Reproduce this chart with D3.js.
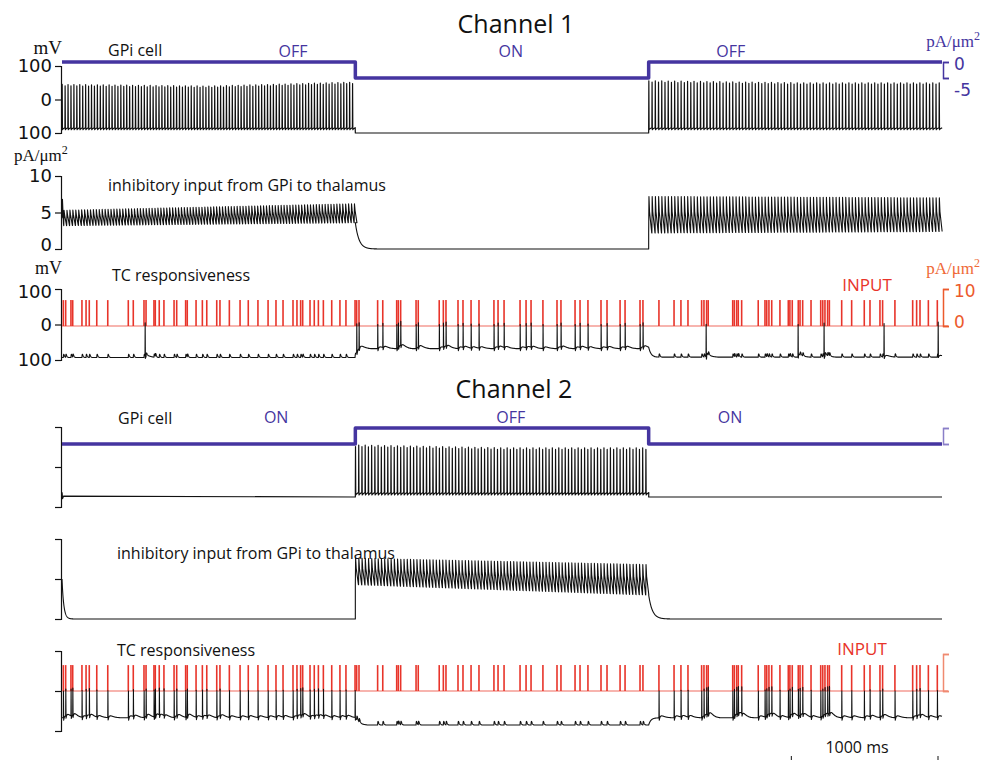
<!DOCTYPE html>
<html>
<head>
<meta charset="utf-8">
<script src="https://cdn.jsdelivr.net/npm/d3@7"></script>
<style>
  body { margin: 0; background: #fff; }
  svg { display: block; }
  text { font-family: "Open Sans", "Noto Sans", sans-serif; }
  .unit { font-family: "Liberation Serif", serif; }
</style>
</head>
<body>
<div class="fig"></div>
<script>
const WIDTH = 993;
const HEIGHT = 760;

// ---- data (times in ms) ----
const T_END = 6000;
const phaseEdges = [0, 2000, 4000, 6000];
const ch1Phases = ["OFF", "ON", "OFF"];
const ch2Phases = ["ON", "OFF", "ON"];
// where the phase names sit (ms)
const ch1PhaseLabelT = [1575, 3060, 4560];
const ch2PhaseLabelT = [1460, 3060, 4555];
// current injected into the GPi cell, pA/um2
const ch1Current = [0, -5, 0];
const ch2Current = [-5, 0, -5];

// input pulse train to the TC cell (same in both channels)
const inputTimes = [9, 25, 61, 73, 136, 164, 186, 237, 312, 452, 486, 559, 573, 627, 636, 663, 695,
  764, 782, 843, 854, 914, 957, 987, 1055, 1077, 1141, 1214, 1270, 1336, 1405, 1459, 1507, 1575, 1602,
  1627, 1641, 1691, 1720, 1748, 1782, 1839, 1895, 1936, 1998, 2009, 2025, 2152, 2187, 2282, 2293, 2309,
  2414, 2429, 2572, 2600, 2618, 2700, 2734, 2789, 2843, 2945, 2973, 3014, 3123, 3164, 3198, 3279, 3375,
  3402, 3498, 3532, 3586, 3675, 3716, 3805, 3839, 3941, 3961, 4070, 4173, 4220, 4268,
  4361, 4377, 4395, 4406, 4573, 4584, 4600, 4611, 4634, 4747, 4793, 4805, 4820, 4839, 4895,
  4952, 4963, 4979, 5020, 5032, 5050, 5107, 5173, 5187, 5202, 5220, 5232, 5316, 5384, 5470, 5509, 5577,
  5595, 5679, 5800, 5827, 5850, 5907, 5968];
const inputAmp = 7;

// GPi firing per phase: inter-spike interval, peak envelope (start, mid, end), trough; rest = silent level
const gpi1Firing = [
  { isi: 20, peaks: [45, 40, 52], trough: -90 },
  { rest: -100 },
  { isi: 22, peaks: [56, 50, 50], trough: -90 }
];
const gpi2Firing = [
  { rest: -75 },
  { isi: 22, peaks: [55, 48, 48], trough: -70 },
  { rest: -75 }
];
// inhibitory synaptic current onto TC, low/high of each cycle (pA/um2), start and end of phase
const syn1Range = [{ lo: [3.2, 3.6], hi: [5.3, 6.2] }, null, { lo: [2.2, 2.4], hi: [7.2, 7.0] }];
const syn2Range = [null, { lo: [4.3, 3.0], hi: [7.6, 6.8] }, null];
const syn1Start = 6.8;
const syn2Start = 5;

// TC cell: resting level per phase (mV), relayed spikes
const tc1Base = [-93, -68, -92];
const tc2Base = [-67, -85, -67];
const tc1Relay = [false, true, false];
const tc2Relay = [true, false, true];
const tc1ExtraSpikes = [566, 4391, 5018, 5195, 5604, 5973];

// ---- layout ----
const svg = d3.select(".fig").append("svg")
  .attr("width", WIDTH).attr("height", HEIGHT);

const x = d3.scaleLinear().domain([0, T_END]).range([62, 942]);
const AX = 61;
const BLUE = "#4535a0";
const RED = "#e8342a";

const ch1 = {
  v: d3.scaleLinear().domain([-100, 100]).range([133, 66]),
  cur: d3.scaleLinear().domain([-5, 0]).range([78, 62]),
  syn: d3.scaleLinear().domain([0, 10]).range([249, 176]),
  tc: d3.scaleLinear().domain([-100, 100]).range([360, 289]),
  inp: d3.scaleLinear().domain([0, 10]).range([326, 289])
};
const ch2 = {
  v: d3.scaleLinear().domain([-100, 100]).range([507, 427]),
  cur: d3.scaleLinear().domain([-5, 0]).range([444, 428]),
  syn: d3.scaleLinear().domain([0, 10]).range([619, 539]),
  tc: d3.scaleLinear().domain([-100, 100]).range([731, 651]),
  inp: d3.scaleLinear().domain([0, 10]).range([691, 654])
};

function phaseOf(t) {
  return t < phaseEdges[1] ? 0 : (t < phaseEdges[2] ? 1 : 2);
}
function env(arr, f) {
  return f < 0.5 ? arr[0] + (arr[1] - arr[0]) * f * 2 : arr[1] + (arr[2] - arr[1]) * (f - 0.5) * 2;
}

function gpiPoints(firing) {
  const pts = [];
  firing.forEach((f, i) => {
    const t0 = phaseEdges[i], t1 = phaseEdges[i + 1];
    if (f.rest !== undefined) {
      if (i === 0) pts.push([0, f.rest + 12], [4, f.rest - 4], [10, f.rest + 2]);
      else pts.push([t0, f.rest]);
      pts.push([t1, f.rest]);
      return;
    }
    for (let t = t0; t < t1 - 4; t += f.isi) {
      const pk = env(f.peaks, (t - t0) / (t1 - t0)) + (Math.round(t / f.isi) % 2 ? -4 : 0);
      pts.push([t, f.trough + 6], [t + 1.2, pk], [t + 3, f.trough], [t + 6, f.trough + 2], [t + f.isi - 1, f.trough + 6]);
    }
  });
  return pts;
}

function synPoints(ranges, firing, start) {
  const pts = [];
  let level = start;
  ranges.forEach((r, i) => {
    const t0 = phaseEdges[i], t1 = phaseEdges[i + 1];
    if (!r) {
      // decay of the previous input
      const tau = i === 0 ? 12 : 25;
      for (let t = t0; t <= t1; t += (t - t0 < 300 ? 1 : 50)) pts.push([t, level * Math.exp(-(t - t0) / tau)]);
      level = 0;
      return;
    }
    const isi = firing[i].isi;
    if (i === 0) pts.push([0, 4.2], [3, start], [10, 3.5]);
    for (let t = t0 + (i === 0 ? 12 : 0); t < t1 - 2; t += isi) {
      const f = (t - t0) / (t1 - t0);
      const lo = r.lo[0] + (r.lo[1] - r.lo[0]) * f;
      const hi = r.hi[0] + (r.hi[1] - r.hi[0]) * f;
      pts.push([t, lo], [t + 2, hi], [t + 6, (hi + lo) / 2 + 0.4], [t + isi - 1, lo]);
      level = lo;
    }
  });
  return pts;
}

function tcPoints(base, relay, extra) {
  const spikes = [];
  inputTimes.forEach(t => { if (relay[phaseOf(t)]) spikes.push(t); });
  extra.forEach(t => spikes.push(t));
  const bumps = inputTimes.filter(t => !relay[phaseOf(t)]);
  const pts = [];
  for (let t = 0; t <= T_END; t += 0.5) {
    const p = phaseOf(t);
    let b = base[p];
    if (p > 0) {
      const prev = base[p - 1], dt = t - phaseEdges[p];
      b = base[p] + (prev - base[p]) * Math.exp(-dt / 15);
    }
    let v = b;
    for (const s of bumps) {
      const dt = t - s;
      if (dt > 0 && dt < 40) v += 9 * (dt / 3) * Math.exp(1 - dt / 3);
    }
    for (const s of spikes) {
      const dt = t - s;
      if (dt < 0 || dt > 80) continue;
      const h = 0 - b;
      if (dt < 1) v += h * dt;
      else if (dt < 2.5) v += h * (1 - (dt - 1) / 1.5) - 6 * (dt - 1) / 1.5;
      else v += -6 * Math.exp(-(dt - 2.5) / 4) + 5 * ((dt - 2.5) / 15) * Math.exp(1 - (dt - 2.5) / 15);
    }
    pts.push([t, Math.max(v, -110)]);
  }
  return pts;
}

function leftAxis(y, vals, labels) {
  const g = svg.append("g").attr("transform", `translate(${AX},0)`)
    .call(d3.axisLeft(y).tickValues(vals).tickSize(6).tickSizeOuter(6).tickPadding(3)
      .tickFormat(labels ? d => Math.abs(d) : ""));
  g.selectAll("text").style("font-size", "18px").style("font-family", "'DejaVu Sans', sans-serif").attr("fill", "#111");
  g.selectAll("path,line").attr("stroke", "#111").attr("stroke-width", 1.2);
  return g;
}

function rightBracket(y, vals, color, labels) {
  const g = svg.append("g").attr("transform", "translate(943,0)")
    .call(d3.axisRight(y).tickValues(vals).tickSize(6).tickSizeOuter(6).tickPadding(5)
      .tickFormat(labels ? d => d : ""));
  g.selectAll("text").style("font-size", "17px").style("font-family", "'DejaVu Sans', sans-serif").attr("fill", color);
  g.selectAll("path,line").attr("stroke", color).attr("stroke-width", 1.5);
  return g;
}

const line = d3.line().x(d => x(d[0]));

function drawTrace(pts, y, color, width) {
  svg.append("path").datum(pts)
    .attr("d", line.y(d => y(d[1])))
    .attr("fill", "none").attr("stroke", color).attr("stroke-width", width)
    .attr("stroke-linejoin", "round");
}

function stepPoints(cur) {
  const pts = [];
  cur.forEach((c, i) => pts.push([phaseEdges[i], c], [phaseEdges[i + 1], c]));
  return pts;
}

function drawInput(sc) {
  svg.append("line").attr("x1", x(0)).attr("x2", 948)
    .attr("y1", sc.inp(0)).attr("y2", sc.inp(0))
    .attr("stroke", "#ef6b5e").attr("stroke-width", 1.2);
  svg.append("g").selectAll("line").data(inputTimes).join("line")
    .attr("x1", d => x(d)).attr("x2", d => x(d))
    .attr("y1", sc.inp(0)).attr("y2", sc.inp(inputAmp))
    .attr("stroke", RED).attr("stroke-width", 1.6);
}

function label(txt, px, py, opts = {}) {
  return svg.append("text").attr("x", px).attr("y", py)
    .attr("text-anchor", opts.anchor || "start")
    .attr("fill", opts.color || "#111")
    .style("font-size", (opts.size || 16) + "px")
    .attr("class", opts.cls || null)
    .text(txt);
}

function unitPA(px, py, color, anchor) {
  const t = svg.append("text").attr("x", px).attr("y", py).attr("class", "unit")
    .attr("text-anchor", anchor).attr("fill", color).style("font-size", "17px");
  t.append("tspan").text("pA/\u03bcm");
  t.append("tspan").attr("dy", -7).style("font-size", "12px").text("2");
}

function phaseLabels(phases, at, py) {
  svg.append("g").selectAll("text").data(phases).join("text")
    .attr("x", (d, i) => x(at[i]))
    .attr("y", py).attr("text-anchor", "middle").attr("fill", BLUE)
    .style("font-size", "16px").text(d => d);
}

// ---- Channel 1 ----
label("Channel 1", 516, 33, { anchor: "middle", size: 25 });
label("mV", 62, 54, { anchor: "end", size: 19, cls: "unit" });
label("GPi cell", 108, 56, { size: 16 });
phaseLabels(ch1Phases, ch1PhaseLabelT, 57);
unitPA(980, 47, BLUE, "end");
leftAxis(ch1.v, [-100, 0, 100], true);
drawTrace(gpiPoints(gpi1Firing), ch1.v, "#111", 1.2);
drawTrace(stepPoints(ch1Current), ch1.cur, BLUE, 3.5);
rightBracket(ch1.cur, [-5, 0], BLUE, true)
  .selectAll(".tick text").attr("dy", d => d === -5 ? "1.05em" : "0.45em");

unitPA(14, 161, "#111", "start");
leftAxis(ch1.syn, [0, 5, 10], true)
  .selectAll(".tick text").attr("dy", d => d === 0 ? "0.1em" : "0.32em");
label("inhibitory input from GPi to thalamus", 108, 191, { size: 16 });
drawTrace(synPoints(syn1Range, gpi1Firing, syn1Start), ch1.syn, "#111", 1.1);

label("mV", 62, 274, { anchor: "end", size: 18, cls: "unit" });
label("TC responsiveness", 112, 281, { size: 16 });
label("INPUT", 867, 291, { anchor: "middle", size: 17, color: RED });
unitPA(980, 274, "#ef6a38", "end");
leftAxis(ch1.tc, [-100, 0, 100], true)
  .selectAll(".tick text").attr("dy", d => d === 100 ? "0.45em" : "0.32em");
drawInput(ch1);
drawTrace(tcPoints(tc1Base, tc1Relay, tc1ExtraSpikes), ch1.tc, "#111", 1.1);
rightBracket(ch1.inp, [0, 10], "#ec5a2c", true)
  .selectAll(".tick text").attr("dy", d => d === 0 ? "0.1em" : "0.45em");

// ---- Channel 2 ----
label("Channel 2", 514, 398, { anchor: "middle", size: 25 });
label("GPi cell", 118, 424, { size: 16 });
phaseLabels(ch2Phases, ch2PhaseLabelT, 423);
leftAxis(ch2.v, [-100, 0, 100], false);
drawTrace(gpiPoints(gpi2Firing), ch2.v, "#111", 1.2);
drawTrace(stepPoints(ch2Current), ch2.cur, BLUE, 3.5);
rightBracket(ch2.cur, [-5, 0], "#8a7fc8", false);

leftAxis(ch2.syn, [0, 5, 10], false);
label("inhibitory input from GPi to thalamus", 117, 559, { size: 16 });
drawTrace(synPoints(syn2Range, gpi2Firing, syn2Start), ch2.syn, "#111", 1.1);

label("TC responsiveness", 117, 656, { size: 16 });
label("INPUT", 862, 655, { anchor: "middle", size: 17, color: RED });
leftAxis(ch2.tc, [-100, 0, 100], false);
drawInput(ch2);
drawTrace(tcPoints(tc2Base, tc2Relay, []), ch2.tc, "#111", 1.1);
rightBracket(ch2.inp, [0, 10], "#f08a70", false);

// scale bar
label("1000 ms", 857, 753, { anchor: "middle", size: 16 });
svg.append("g").selectAll("line").data([T_END - 1000, T_END]).join("line")
  .attr("x1", d => x(d) - 4).attr("x2", d => x(d) - 4)
  .attr("y1", 756).attr("y2", 762).attr("stroke", "#111").attr("stroke-width", 1);
</script>
</body>
</html>
